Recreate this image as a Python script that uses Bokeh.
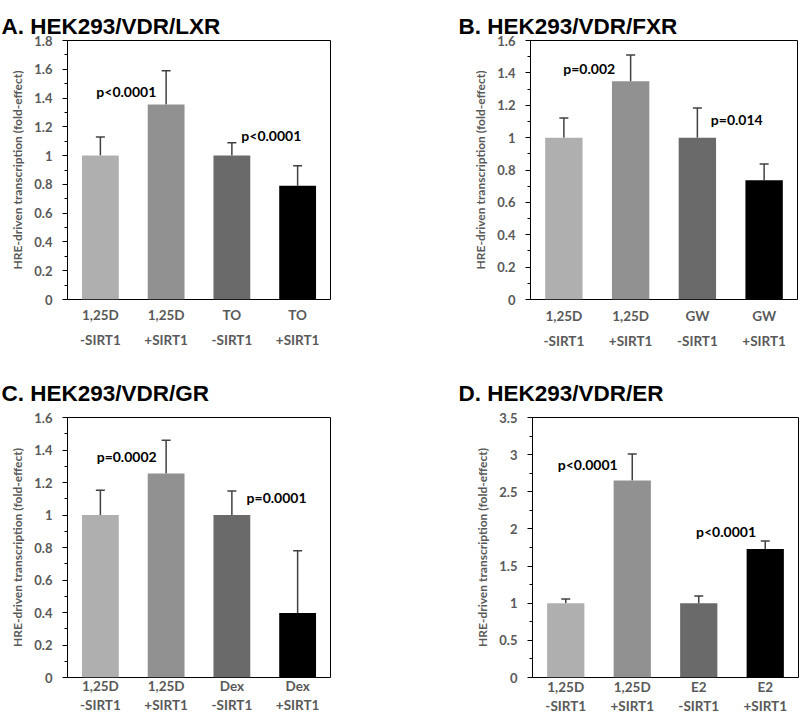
from bokeh.plotting import figure
from bokeh.layouts import column, row
from bokeh.models import (Range1d, FixedTicker, LinearAxis, CustomJSTickFormatter,
                          Whisker, ColumnDataSource)
from bokeh.core.properties import value
from bokeh.embed import file_html
from bokeh.resources import INLINE

# ---------------- data ----------------
sirt_labels = ["-SIRT1", "+SIRT1", "-SIRT1", "+SIRT1"]

title_A = "A. HEK293/VDR/LXR"
ligand_A = ["1,25D", "1,25D", "TO", "TO"]
mean_A = [1.0, 1.355, 1.0, 0.79]
err_A = [0.13, 0.235, 0.09, 0.14]
ptext_A = ["p<0.0001", "p<0.0001"]

title_B = "B. HEK293/VDR/FXR"
ligand_B = ["1,25D", "1,25D", "GW", "GW"]
mean_B = [1.0, 1.348, 1.0, 0.737]
err_B = [0.122, 0.162, 0.183, 0.10]
ptext_B = ["p=0.002", "p=0.014"]

title_C = "C. HEK293/VDR/GR"
ligand_C = ["1,25D", "1,25D", "Dex", "Dex"]
mean_C = [1.0, 1.255, 1.0, 0.397]
err_C = [0.152, 0.205, 0.147, 0.383]
ptext_C = ["p=0.0002", "p=0.0001"]

title_D = "D. HEK293/VDR/ER"
ligand_D = ["1,25D", "1,25D", "E2", "E2"]
mean_D = [1.0, 2.652, 1.0, 1.73]
err_D = [0.057, 0.355, 0.097, 0.107]
ptext_D = ["p<0.0001", "p<0.0001"]

yticks_18 = [0, 0.2, 0.4, 0.6, 0.8, 1, 1.2, 1.4, 1.6, 1.8]
yticks_16 = [0, 0.2, 0.4, 0.6, 0.8, 1, 1.2, 1.4, 1.6]
yticks_35 = [0, 0.5, 1, 1.5, 2, 2.5, 3, 3.5]

bar_colors = ["#afafaf", "#919191", "#6a6a6a", "#000000"]
ylabel = "HRE-driven transcription (fold-effect)"
GRAY = "#595959"
FONT = "Lato"


def minor_of(ticks):
    step = ticks[1] - ticks[0]
    return [round(t + step / 2, 4) for t in ticks[:-1]]


def panel(title, ligands, means, errs, ptexts, p_dx, p_y, yticks,
          width, height, mb_left, mb_right, mb_top, mb_bottom,
          title_offset, title_standoff, title_valign, s1, s2):
    n = len(means)
    xs = [i + 0.5 for i in range(n)]
    p = figure(width=width, height=height, x_range=Range1d(0, n),
               y_range=Range1d(0, yticks[-1]), output_backend="svg",
               toolbar_location=None, min_border_left=mb_left,
               min_border_right=mb_right, min_border_top=mb_top,
               min_border_bottom=mb_bottom, title=title)
    p.outline_line_color = "black"
    p.outline_line_width = 1
    p.outline_line_alpha = 1
    p.grid.visible = False
    p.background_fill_color = "white"
    p.border_fill_color = "white"

    # panel title
    p.title.text_font = "Liberation Sans"
    p.title.text_font_style = "bold"
    p.title.text_font_size = "22.5px"
    p.title.text_color = "black"
    p.title.align = "left"
    p.title.vertical_align = title_valign
    p.title.offset = title_offset
    p.title.standoff = title_standoff

    # y axis
    ya = p.yaxis[0]
    ya.ticker = FixedTicker(ticks=yticks, minor_ticks=minor_of(yticks))
    ya.formatter = CustomJSTickFormatter(code="return String(Math.round(tick*100)/100);")
    ya.major_label_text_font = FONT
    ya.major_label_text_font_style = "bold"
    ya.major_label_text_font_size = "13px"
    ya.major_label_text_color = GRAY
    ya.major_tick_out = 5
    ya.major_tick_in = 0
    ya.minor_tick_out = 3
    ya.minor_tick_in = 0
    ya.major_label_standoff = 10
    ya.axis_line_color = "black"
    ya.major_tick_line_color = "black"
    ya.minor_tick_line_color = "black"
    ya.axis_label = ylabel
    ya.axis_label_text_font = FONT
    ya.axis_label_text_font_style = "bold"
    ya.axis_label_text_font_size = "12px"
    ya.axis_label_text_color = GRAY
    ya.axis_label_standoff = 6

    # x axes (two lines of category labels)
    def style_x(ax, labels, standoff):
        ax.ticker = FixedTicker(ticks=xs)
        ax.formatter = CustomJSTickFormatter(args=dict(labels=labels),
                                             code="return labels[Math.round(tick - 0.5)];")
        ax.major_tick_out = 0
        ax.major_tick_in = 0
        ax.minor_tick_out = 0
        ax.minor_tick_in = 0
        ax.axis_line_color = None
        ax.major_label_standoff = standoff
        ax.major_label_text_font = FONT
        ax.major_label_text_font_style = "bold"
        ax.major_label_text_font_size = "13.5px"
        ax.major_label_text_color = GRAY

    style_x(p.xaxis[0], ligands, s1)
    ax2 = LinearAxis()
    style_x(ax2, sirt_labels, s2)
    p.add_layout(ax2, "below")

    # bars
    p.vbar(x=xs, top=means, bottom=0, width=0.56, fill_color=bar_colors,
           line_color=None)

    # error bars (upper only)
    src = ColumnDataSource(dict(x=xs, lower=means,
                                upper=[m + e for m, e in zip(means, errs)]))
    w = Whisker(base="x", lower="lower", upper="upper", source=src,
                dimension="height", line_color="#404040", line_width=1.5,
                lower_head=None)
    w.upper_head.size = 9
    w.upper_head.line_color = "#404040"
    w.upper_head.line_width = 1.5
    p.add_layout(w)

    # p-values (placed near bar 1 and bar 3)
    px = [xs[0] + p_dx[0], xs[2] + p_dx[1]]
    p.text(x=px, y=p_y, text=ptexts, text_font=value(FONT),
           text_font_style="bold", text_font_size="14px", text_color="black",
           text_align="center", text_baseline="middle")
    return p


pA = panel(title_A, ligand_A, mean_A, err_A, ptext_A, [0.395, 0.60], [1.448, 1.138],
           yticks_18, 400, 360, 67, 70, 38, 61, -66, 0, "top", 7, 6)
pB = panel(title_B, ligand_B, mean_B, err_B, ptext_B, [0.38, 0.59], [1.429, 1.114],
           yticks_16, 400, 360, 130, 3, 40, 59, -72, 0, "top", 8, 6)
pC = panel(title_C, ligand_C, mean_C, err_C, ptext_C, [0.40, 0.68], [1.357, 1.105],
           yticks_16, 400, 359, 67, 70, 57, 41, -66, 24, "bottom", 0, 0)
pD = panel(title_D, ligand_D, mean_D, err_D, ptext_D, [0.33, 0.41], [2.871, 1.969],
           yticks_35, 400, 359, 132, 2, 57, 42, -74, 23, "bottom", 1, 0)

layout = column(row(pA, pB), row(pC, pD))
open("out.html", "w").write(file_html(layout, INLINE))
